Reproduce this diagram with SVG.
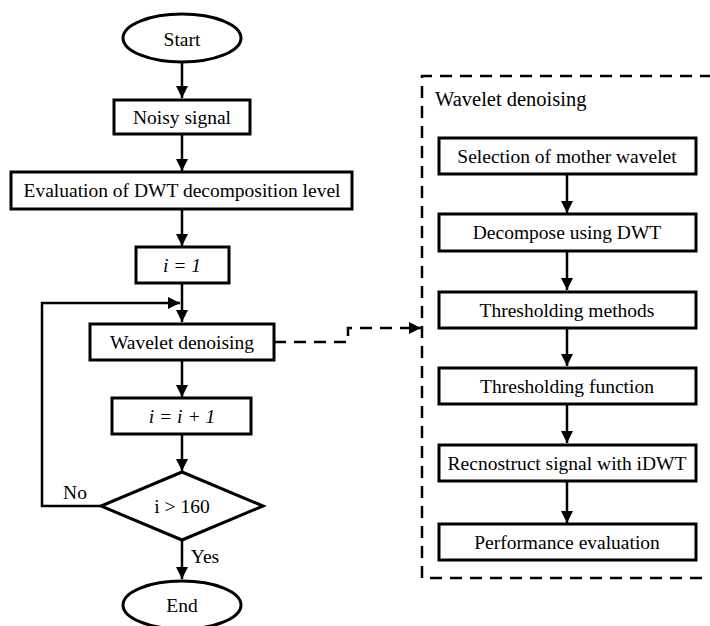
<svg xmlns="http://www.w3.org/2000/svg" width="710" height="626" viewBox="0 0 710 626">
<style>
text{font-family:"Liberation Serif","Times New Roman",serif;font-size:19.5px;fill:#000;text-anchor:middle;dominant-baseline:central}
.it{font-style:italic}
.box{fill:#fff;stroke:#000;stroke-width:3}
.ln{fill:none;stroke:#000;stroke-width:2.5}
.dash{fill:none;stroke:#000;stroke-width:2.5;stroke-dasharray:12 8}
</style>
<defs>
<marker id="ah2" viewBox="0 0 12 12" refX="12" refY="6" markerWidth="12" markerHeight="12" markerUnits="userSpaceOnUse" orient="auto">
<path d="M0,0 L12,6 L0,12 z" fill="#000"/>
</marker>
</defs>
<rect width="710" height="626" fill="#fff"/>
<g id="connectors">
<path class="ln" d="M182,62 V98" marker-end="url(#ah2)"/>
<path class="ln" d="M182,134 V171" marker-end="url(#ah2)"/>
<path class="ln" d="M182,209 V246" marker-end="url(#ah2)"/>
<path class="ln" d="M182,283 V322" marker-end="url(#ah2)"/>
<path class="ln" d="M182,360 V397" marker-end="url(#ah2)"/>
<path class="ln" d="M182,434 V471" marker-end="url(#ah2)"/>
<path class="ln" d="M182,540 V579" marker-end="url(#ah2)"/>
<path class="ln" d="M101,506 H42 V303 H180" marker-end="url(#ah2)"/>
<path class="dash" d="M274,342 H348 V328 H412"/>
<path class="ln" d="M410,328 H421" marker-end="url(#ah2)"/>
<path class="ln" d="M567,174 V213" marker-end="url(#ah2)"/>
<path class="ln" d="M567,251 V290" marker-end="url(#ah2)"/>
<path class="ln" d="M567,328 V366" marker-end="url(#ah2)"/>
<path class="ln" d="M567,404 V443" marker-end="url(#ah2)"/>
<path class="ln" d="M567,481 V523" marker-end="url(#ah2)"/>
</g>
<g id="start"><ellipse class="box" cx="182" cy="38" rx="59" ry="24"/><text x="182" y="39">Start</text></g>
<g id="noisy"><rect class="box" x="114" y="100" width="136" height="34"/><text x="182" y="117">Noisy signal</text></g>
<g id="eval"><rect class="box" x="11" y="172" width="341" height="37"/><text x="182" y="190">Evaluation of DWT decomposition level</text></g>
<g id="i1"><rect class="box" x="136" y="247" width="93" height="36"/><text class="it" x="182" y="265">i = 1</text></g>
<g id="wd"><rect class="box" x="90" y="324" width="184" height="36"/><text x="182" y="342">Wavelet denoising</text></g>
<g id="inc"><rect class="box" x="112" y="398" width="139" height="36"/><text class="it" x="182" y="416">i = i + 1</text></g>
<g id="cond"><path class="box" d="M182,472 L263,506 L182,540 L101,506 Z"/><text x="182" y="506">i &gt; 160</text>
<text x="75" y="492">No</text><text x="205" y="556">Yes</text></g>
<g id="end"><ellipse class="box" cx="182" cy="605" rx="59" ry="24"/><text x="182" y="605">End</text></g>
<g id="panel">
<path class="dash" d="M712,76 H422 V578 H712"/>
<text x="435" y="99" style="text-anchor:start;font-size:20.5px">Wavelet denoising</text>
</g>
<g id="s1"><rect class="box" x="439" y="138" width="257" height="36"/><text x="567" y="156">Selection of mother wavelet</text></g>
<g id="s2"><rect class="box" x="439" y="214" width="257" height="37"/><text x="567" y="232">Decompose using DWT</text></g>
<g id="s3"><rect class="box" x="439" y="292" width="257" height="36"/><text x="567" y="310">Thresholding methods</text></g>
<g id="s4"><rect class="box" x="439" y="368" width="257" height="36"/><text x="567" y="386">Thresholding function</text></g>
<g id="s5"><rect class="box" x="439" y="445" width="257" height="36"/><text x="567" y="463">Recnostruct signal with iDWT</text></g>
<g id="s6"><rect class="box" x="439" y="524" width="257" height="36"/><text x="567" y="542">Performance evaluation</text></g>
</svg>
